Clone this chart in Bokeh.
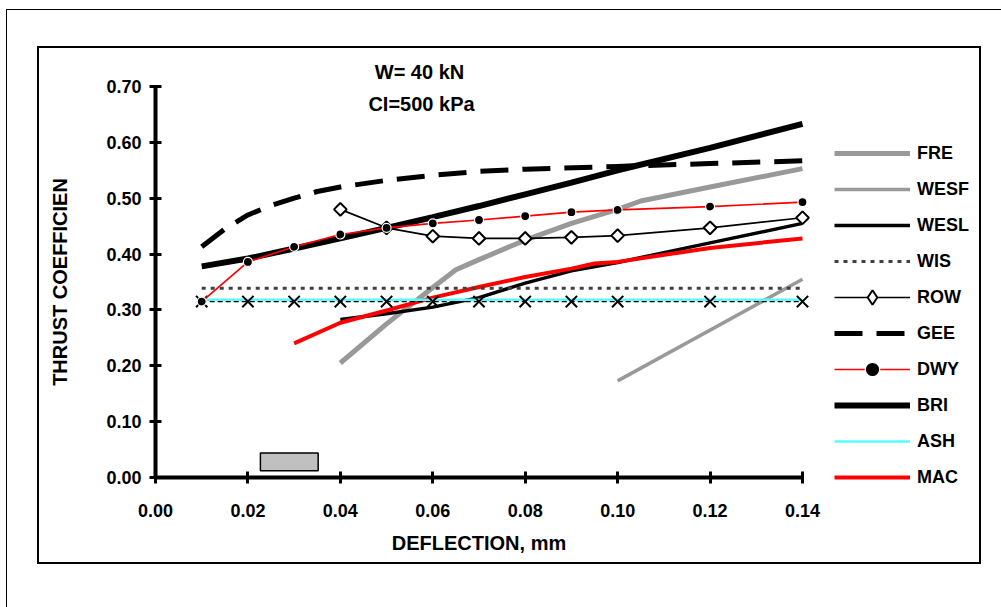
import math
from bokeh.plotting import figure
from bokeh.models import (Range1d, FixedTicker, NumeralTickFormatter, Legend, LegendItem,
                          Label, BoxAnnotation, InlineStyleSheet)
from bokeh.embed import file_html
from bokeh.resources import INLINE

# ---------------- data ----------------
x_ticks = [0.00, 0.02, 0.04, 0.06, 0.08, 0.10, 0.12, 0.14]
y_ticks = [0.00, 0.10, 0.20, 0.30, 0.40, 0.50, 0.60, 0.70]

fre_x = [0.04, 0.05, 0.06, 0.065, 0.07, 0.08, 0.09, 0.10, 0.105, 0.12, 0.14]
fre_y = [0.205, 0.275, 0.34, 0.372, 0.39, 0.425, 0.455, 0.48, 0.495, 0.52, 0.553]

wesf_x = [0.10, 0.14]
wesf_y = [0.173, 0.355]

wesl_x = [0.04, 0.05, 0.06, 0.07, 0.08, 0.09, 0.10, 0.12, 0.14]
wesl_y = [0.283, 0.293, 0.305, 0.322, 0.348, 0.37, 0.385, 0.42, 0.455]

wis_x = [0.01, 0.14]
wis_y = [0.339, 0.339]

row_x = [0.04, 0.05, 0.06, 0.07, 0.08, 0.09, 0.10, 0.12, 0.14]
row_y = [0.48, 0.447, 0.432, 0.428, 0.428, 0.43, 0.433, 0.447, 0.465]

gee_x = [0.01, 0.015, 0.02, 0.025, 0.03, 0.035, 0.04, 0.05, 0.06, 0.07, 0.08, 0.10, 0.12, 0.14]
gee_y = [0.413, 0.445, 0.47, 0.487, 0.5, 0.512, 0.52, 0.532, 0.541, 0.548, 0.552, 0.557, 0.562, 0.567]

dwy_x = [0.01, 0.02, 0.03, 0.04, 0.05, 0.06, 0.07, 0.08, 0.09, 0.10, 0.12, 0.14]
dwy_y = [0.315, 0.386, 0.413, 0.435, 0.447, 0.455, 0.461, 0.468, 0.475, 0.479, 0.485, 0.493]

bri_x = [0.01, 0.02, 0.03, 0.04, 0.05, 0.06, 0.07, 0.08, 0.09, 0.10, 0.12, 0.14]
bri_y = [0.378, 0.392, 0.41, 0.428, 0.447, 0.466, 0.486, 0.507, 0.528, 0.55, 0.59, 0.633]

ash_x = [0.01, 0.14]
ash_y = [0.318, 0.318]

mac_x = [0.03, 0.04, 0.05, 0.06, 0.07, 0.08, 0.09, 0.095, 0.10, 0.12, 0.14]
mac_y = [0.24, 0.277, 0.299, 0.322, 0.341, 0.359, 0.374, 0.383, 0.386, 0.411, 0.428]

cross_x = [0.01, 0.02, 0.03, 0.04, 0.05, 0.06, 0.07, 0.08, 0.09, 0.10, 0.12, 0.14]
cross_y = [0.315] * len(cross_x)

box_x = [0.0227, 0.0352]
box_y = [0.012, 0.044]

FONT = "Liberation Sans"

# ---------------- geometry of the plot area on the page ----------------
W, H = 1001, 607
X0_PX, X14_PX = 155, 802     # pixel columns of x = 0.00 and x = 0.14
Y0_PX, Y70_PX = 477, 86      # pixel rows of y = 0.00 and y = 0.70
sx = (X14_PX - X0_PX) / 0.14
sy = (Y0_PX - Y70_PX) / 0.70
x_range = Range1d(-X0_PX / sx, (W - X0_PX) / sx)
y_range = Range1d(-(H - Y0_PX) / sy, Y0_PX / sy)

p = figure(width=W, height=H, output_backend="svg", toolbar_location=None,
           x_range=x_range, y_range=y_range,
           min_border_left=0, min_border_right=0, min_border_top=0, min_border_bottom=0)
p.outline_line_color = None
p.xgrid.visible = False
p.ygrid.visible = False
p.background_fill_color = "white"
p.border_fill_color = "white"

for ax, ticks in ((p.xaxis[0], x_ticks), (p.yaxis[0], y_ticks)):
    ax.ticker = FixedTicker(ticks=ticks)
    ax.formatter = NumeralTickFormatter(format="0.00")
    ax.bounds = (ticks[0], ticks[-1])
    ax.fixed_location = 0
    ax.axis_line_width = 4
    ax.axis_line_color = "black"
    ax.major_tick_line_width = 3
    ax.major_tick_line_color = "black"
    ax.major_tick_in = 6
    ax.major_tick_out = 6
    ax.minor_tick_line_color = None
    ax.major_label_text_font = FONT
    ax.major_label_text_font_style = "bold"
    ax.major_label_text_font_size = "18px"
    ax.major_label_text_color = "black"
    ax.axis_label_text_font = FONT
    ax.axis_label_text_font_style = "bold"
    ax.axis_label_text_font_size = "20px"
    ax.axis_label_text_color = "black"

p.xaxis.axis_label = "DEFLECTION, mm"
p.xaxis.major_label_standoff = 20
p.xaxis.axis_label_standoff = 12
p.yaxis.axis_label = "THRUST COEFFICIEN"
p.yaxis.major_label_standoff = 8
p.yaxis.axis_label_standoff = 32

# gray box
p.add_layout(BoxAnnotation(left=box_x[0], right=box_x[1], bottom=box_y[0], top=box_y[1],
                           fill_color="#c0c0c0", fill_alpha=1.0,
                           line_color="black", line_width=1.5, line_alpha=1.0))

# series
r_gee = p.line(gee_x, gee_y, line_color="black", line_width=5, line_dash="28 14")
r_bri = p.line(bri_x, bri_y, line_color="black", line_width=6)
r_fre = p.line(fre_x, fre_y, line_color="#999999", line_width=5)
r_wesf = p.line(wesf_x, wesf_y, line_color="#999999", line_width=3.5)
r_wesl = p.line(wesl_x, wesl_y, line_color="black", line_width=3.5)
r_mac = p.line(mac_x, mac_y, line_color="#ff0000", line_width=4)
r_wis = p.line(wis_x, wis_y, line_color="#404040", line_width=3, line_dash="4 5")
r_cl = p.line(cross_x, cross_y, line_color="black", line_width=1.3, line_dash="5 3")
r_ash = p.line(ash_x, ash_y, line_color="#55ffff", line_width=2.5)
r_cm = p.scatter(cross_x, cross_y, marker="x", size=16, line_color="black", line_width=2)
r_rowl = p.line(row_x, row_y, line_color="black", line_width=1.7)
r_rowm = p.scatter(row_x, row_y, marker="square", angle=math.pi / 4, size=9,
                   fill_color="white", line_color="black", line_width=2)
# diamond key used only by the legend entry of ROW (a single undefined point, never drawn)
r_rowkey = p.scatter(x=[float("nan")], y=[float("nan")], marker="diamond", size=12,
                     fill_color="white", line_color="black", line_width=2)
r_dwyl = p.line(dwy_x, dwy_y, line_color="#ff0000", line_width=1.7)
r_dwym = p.scatter(dwy_x, dwy_y, marker="circle", size=9, fill_color="black",
                   line_color="white", line_width=1.2)

legend = Legend(items=[
    LegendItem(label="FRE", renderers=[r_fre]),
    LegendItem(label="WESF", renderers=[r_wesf]),
    LegendItem(label="WESL", renderers=[r_wesl]),
    LegendItem(label="WIS", renderers=[r_wis]),
    LegendItem(label="ROW", renderers=[r_rowl, r_rowkey]),
    LegendItem(label="GEE", renderers=[r_gee]),
    LegendItem(label="DWY", renderers=[r_dwyl, r_dwym]),
    LegendItem(label="BRI", renderers=[r_bri]),
    LegendItem(label="ASH", renderers=[r_ash]),
    LegendItem(label="MAC", renderers=[r_mac]),
], location=(834, H - 495))
legend.border_line_color = None
legend.background_fill_alpha = 0
legend.padding = 0
legend.margin = 0
legend.spacing = 0
legend.label_height = 36
legend.glyph_height = 36
legend.glyph_width = 76
legend.label_standoff = 7
legend.label_text_font = FONT
legend.label_text_font_style = "bold"
legend.label_text_font_size = "18px"
legend.label_text_color = "black"
p.add_layout(legend)

# annotation texts (screen units: from the frame's bottom-left corner)
p.add_layout(Label(x=419, y=H - 71, x_units="screen", y_units="screen", text="W= 40 kN",
                   text_align="center", text_baseline="middle", text_font=FONT,
                   text_font_style="bold", text_font_size="20px", text_color="black"))
p.add_layout(Label(x=421, y=H - 103, x_units="screen", y_units="screen", text="CI=500 kPa",
                   text_align="center", text_baseline="middle", text_font=FONT,
                   text_font_style="bold", text_font_size="20px", text_color="black"))

# chart-area frame and outer frame (page decoration)
css = """
:host::before { content: ""; position: absolute; box-sizing: border-box;
  left: 37px; top: 46px; width: 944px; height: 518px;
  border: 2px solid black; pointer-events: none; z-index: 100; }
:host::after { content: ""; position: absolute; box-sizing: border-box;
  left: 6px; top: 9px; width: 995px; height: 598px;
  border-top: 1.5px solid black; border-left: 1.5px solid black;
  pointer-events: none; z-index: 100; }
"""
p.stylesheets = [InlineStyleSheet(css=css)]

open("out.html", "w").write(file_html(p, INLINE))
